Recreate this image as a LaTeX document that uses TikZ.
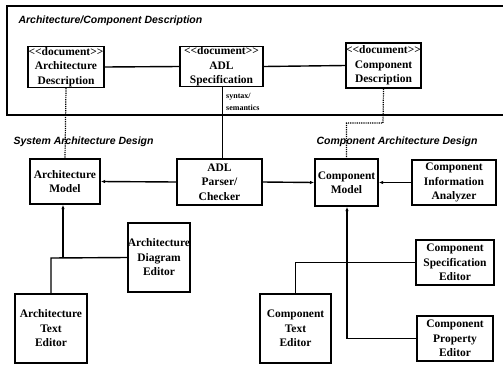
\documentclass[tikz,border=0pt]{standalone}
\usepackage{fontspec}
\setmainfont{Liberation Serif}
\newfontfamily\areafont{Liberation Sans}
\usepackage{tikz}
\usetikzlibrary{arrows.meta, positioning, calc}

\begin{document}
\begin{tikzpicture}[
  x=1pt, y=-1pt,
  font=\bfseries\fontsize{11.5}{14.5}\selectfont,
  box/.style={draw=black, line width=1.4pt, fill=white, align=center,
              inner sep=0pt},
  area/.style={anchor=west, font=\areafont\bfseries\itshape\fontsize{10.5}{12}\selectfont},
  a/.style={-{Latex[length=4.5pt, width=3.5pt]}, line width=1.4pt},
  l/.style={line width=1.4pt},
  trace/.style={densely dotted, line width=1.2pt}
]
\useasboundingbox (0,0) rectangle (503,378);

% description frame
\draw[line width=1.4pt] (505,6) -- (7,6) -- (7,115) -- (505,115);
\node[area] (desclbl) at (15,21) {Architecture/Component Description};

\node[box, minimum width=76pt, minimum height=41pt] (archdesc) at (66,67)
  {{<}{<}document{>}{>}\\Architecture\\Description};
\node[box, minimum width=83pt, minimum height=40pt] (adlspec) at (221.5,66.5)
  {{<}{<}document{>}{>}\\ADL\\Specification};
\node[box, minimum width=73pt, minimum height=45pt] (compdesc) at (383.5,65.5)
  {{<}{<}document{>}{>}\\Component\\Description};
\draw[l] (archdesc.east) -- (adlspec.west);
\draw[l] (adlspec.east) -- (compdesc.west);

% design areas
\node[area] (syslbl) at (10,142) {System Architecture Design};
\node[area] (complbl) at (313,142) {Component Architecture Design};

\node[box, minimum width=70pt, minimum height=45pt] (archmodel) at (65,181.5)
  {Architecture\\Model};
\node[box, minimum width=85pt, minimum height=46pt] (parser) at (219.5,182)
  {ADL\\Parser/\\Checker};
\node[box, minimum width=63pt, minimum height=47pt] (compmodel) at (346.5,182.5)
  {Component\\Model};
\node[box, minimum width=84pt, minimum height=45pt] (analyzer) at (454,182.5)
  {Component\\Information\\Analyzer};
\node[box, minimum width=62pt, minimum height=69pt] (diagedit) at (159,257.5)
  {Architecture\\Diagram\\Editor};
\node[box, minimum width=72pt, minimum height=69pt] (archtext) at (51,328.5)
  {Architecture\\Text\\Editor};
\node[box, minimum width=78pt, minimum height=45pt] (specedit) at (455,262.5)
  {Component\\Specification\\Editor};
\node[box, minimum width=76pt, minimum height=45pt] (propedit) at (455,338.5)
  {Component\\Property\\Editor};
\node[box, minimum width=71pt, minimum height=69pt] (comptext) at (295.5,328.5)
  {Component\\Text\\Editor};

% links from the descriptions
\draw[trace] (archdesc.south) -- (archmodel.north);
\draw[line width=0.9pt] (adlspec.south -| parser.north) ++(2.5,0) coordinate (s1) -- (s1 |- parser.north);
\node[anchor=north west, align=left, inner sep=0pt,
      font=\bfseries\fontsize{8}{12}\selectfont] (synlbl) at (226,93) {syntax/\\semantics};
\coordinate (bend) at (383,123);
\draw[trace] (compdesc.south) -- (bend) -- (bend -| compmodel.north) -- (compmodel.north);

% model links
\draw[a] (parser.west) -- (archmodel.east);
\draw[a] (parser.east) -- (compmodel.west);
\draw[a] (analyzer.west) -- (compmodel.east);

\coordinate (aj) at (63,258);
\draw[l] (archtext.north) -- (archtext.north |- aj) -- (diagedit.west);
\draw[a] (aj) -- (archmodel.south -| aj);

\coordinate (cj) at (347,338.5);
\draw[l] (cj) -- (propedit.west);
\draw[a] (cj) -- (compmodel.south -| cj);
\draw[l] (comptext.north) -- (comptext.north |- specedit.west) -- (specedit.west);
\end{tikzpicture}
\end{document}
